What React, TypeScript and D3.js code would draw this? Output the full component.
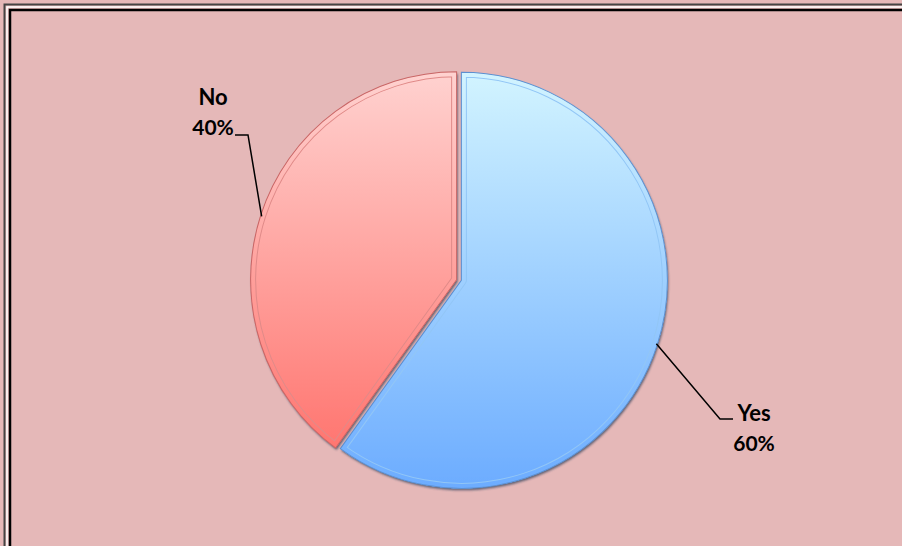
import React from "react";
import * as d3 from "d3";

const labels = ["Yes", "No"];
const values = [60, 40];
const percentText = ["60%", "40%"];

const W = 902;
const H = 546;

// where each label sits and where its leader bends
const labelPos = [
  { x: 754, y1: 421, y2: 451, elbowX: 720, elbowY: 419, endX: 733 },
  { x: 213, y1: 105, y2: 135, elbowX: 248, elbowY: 135, endX: 235 },
];

const fills = [
  { top: "#d2f4ff", bottom: "#6cacff", edge: "#5d8fcf", line: "#92c6f6" },
  { top: "#ffd2d0", bottom: "#ff6c66", edge: "#c86666", line: "#e08a88" },
];

export default function App() {
  const cx = 459;
  const cy = 280;
  const r = 206;
  const explode = 2.5;

  const pie = d3.pie<number>().sort(null).value((d) => d);
  const arcs = pie(values);
  const arc = d3.arc<d3.PieArcDatum<number>>().innerRadius(0).outerRadius(r);

  return (
    <div style={{ position: "absolute", left: 0, top: 0 }}>
      <svg width={W} height={H} style={{ display: "block" }}>
        <defs>
          {fills.map((f, i) => (
            <linearGradient
              key={i}
              id={`grad${i}`}
              gradientUnits="userSpaceOnUse"
              x1={0}
              y1={-r}
              x2={0}
              y2={r}
            >
              <stop offset="0" stopColor={f.top} />
              <stop offset="1" stopColor={f.bottom} />
            </linearGradient>
          ))}
          <filter id="shadow" x="-10%" y="-10%" width="120%" height="120%">
            <feDropShadow dx="1" dy="2" stdDeviation="1.2" floodColor="#2a3a55" floodOpacity="0.7" />
          </filter>
          {arcs.map((a, i) => (
            <clipPath key={i} id={`clip${i}`}>
              <path d={arc(a) || ""} />
            </clipPath>
          ))}
        </defs>

        <rect x={0} y={0} width={W} height={H} fill="#e5b8b8" />
        {/* frame */}
        <rect x={4.5} y={4.5} width={W + 20} height={H + 20} fill="none" stroke="#444" strokeWidth={2} />
        <rect x={7} y={7} width={W + 20} height={H + 20} fill="none" stroke="#fff" strokeWidth={1.5} />
        <rect x={10} y={10} width={W + 20} height={H + 20} fill="none" stroke="#000" strokeWidth={2.5} />

        {arcs.map((a, i) => {
          const mid = (a.startAngle + a.endAngle) / 2;
          const ox = Math.sin(mid) * explode;
          const oy = -Math.cos(mid) * explode * 0.4;
          const d = arc(a) || "";
          return (
            <g key={labels[i]} transform={`translate(${cx + ox},${cy + oy}) scale(1,1.01)`}>
              <path d={d} fill={`url(#grad${i})`} filter="url(#shadow)" />
              <g clipPath={`url(#clip${i})`}>
                <path d={d} fill="none" stroke={fills[i].line} strokeWidth={11} strokeLinejoin="round" />
                <path d={d} fill="none" stroke={`url(#grad${i})`} strokeWidth={9} strokeLinejoin="round" />
              </g>
              <path d={d} fill="none" stroke={fills[i].edge} strokeWidth={1} />
            </g>
          );
        })}

        {arcs.map((a, i) => {
          const mid = (a.startAngle + a.endAngle) / 2;
          const ox = Math.sin(mid) * explode;
          const oy = -Math.cos(mid) * explode * 0.4;
          const sx = cx + ox + Math.sin(mid) * (r - 1);
          const sy = cy + oy - Math.cos(mid) * (r - 1);
          const p = labelPos[i];
          return (
            <g key={`lab${i}`}>
              <polyline
                points={`${sx},${sy} ${p.elbowX},${p.elbowY} ${p.endX},${p.elbowY}`}
                fill="none"
                stroke="#000"
                strokeWidth={1.5}
              />
              <text
                x={p.x}
                y={p.y1}
                textAnchor="middle"
                fontFamily="Lato, 'Open Sans', sans-serif"
                fontWeight="bold"
                fontSize={22}
                fill="#000"
              >
                {labels[i]}
              </text>
              <text
                x={p.x}
                y={p.y2}
                textAnchor="middle"
                fontFamily="Lato, 'Open Sans', sans-serif"
                fontWeight="bold"
                fontSize={21}
                fill="#000"
              >
                {percentText[i]}
              </text>
            </g>
          );
        })}
      </svg>
    </div>
  );
}
